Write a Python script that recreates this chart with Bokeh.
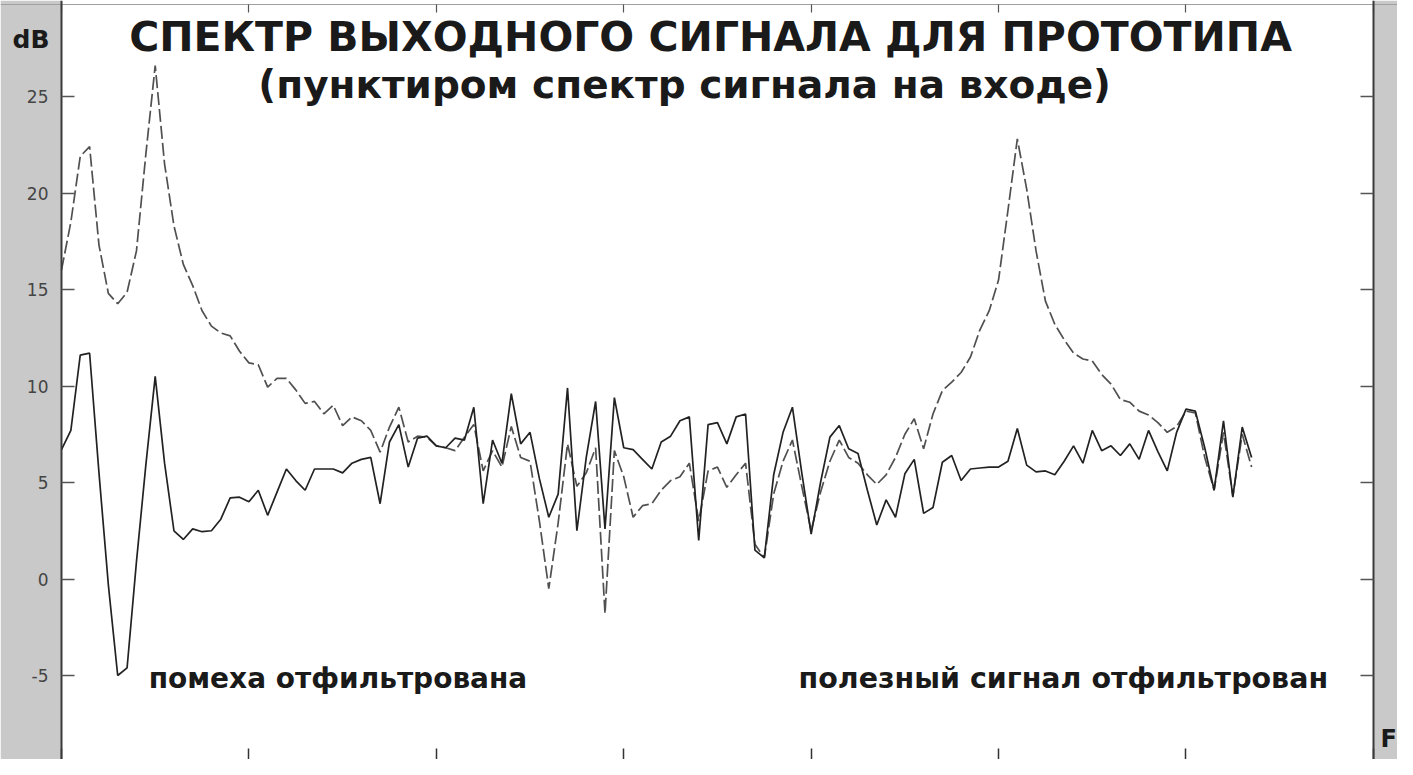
from bokeh.plotting import figure
from bokeh.models import (Label, LinearAxis, FixedTicker, Range1d, BoxAnnotation,
                          CustomJSTickFormatter)
from bokeh.embed import file_html
from bokeh.resources import INLINE

# ---------------- data ----------------
freq_bins = list(range(128))

spectrum_out = [
    6.7, 7.7, 11.6, 11.7, 5.5, -0.3, -5.0, -4.6, 0.9, 5.9,
    10.5, 6.0, 2.5, 2.05, 2.6, 2.45, 2.5, 3.1, 4.2, 4.24,
    4.0, 4.6, 3.3, 4.5, 5.7, 5.1, 4.6, 5.7, 5.7, 5.7,
    5.5, 6.0, 6.2, 6.3, 3.9, 7.1, 8.0, 5.8, 7.3, 7.4,
    6.9, 6.8, 7.3, 7.2, 8.9, 3.9, 7.2, 6.0, 9.6, 7.0,
    7.6, 5.2, 3.2, 4.4, 9.9, 2.5, 6.3, 9.2, 2.6, 9.4,
    6.8, 6.7, 6.2, 5.7, 7.1, 7.4, 8.2, 8.4, 2.0, 8.0,
    8.1, 7.0, 8.4, 8.55, 1.5, 1.1, 5.4, 7.6, 8.9, 5.5,
    2.33, 5.0, 7.35, 7.95, 6.75, 6.5, 4.6, 2.8, 4.1, 3.2,
    5.45, 6.2, 3.4, 3.7, 6.05, 6.4, 5.1, 5.7, 5.75, 5.8,
    5.8, 6.1, 7.8, 5.9, 5.55, 5.6, 5.4, 6.1, 6.9, 6.0,
    7.7, 6.65, 6.9, 6.4, 7.0, 6.2, 7.7, 6.6, 5.6, 7.6,
    8.8, 8.7, 6.8, 4.6, 8.2, 4.24, 7.87, 6.3,
]

spectrum_in = [
    16.0, 18.5, 21.9, 22.4, 17.3, 14.8, 14.26, 14.86, 17.0, 22.0,
    26.6, 21.5, 18.3, 16.3, 15.2, 13.9, 13.1, 12.75, 12.6, 11.8,
    11.2, 11.1, 9.94, 10.4, 10.4, 9.8, 9.1, 9.2, 8.56, 9.0,
    7.95, 8.4, 8.2, 7.7, 6.57, 7.87, 8.9, 7.1, 7.4, 7.35,
    6.9, 6.8, 6.65, 7.35, 8.0, 5.6, 6.65, 5.8, 7.9, 6.3,
    6.1, 3.0, -0.5, 2.9, 7.0, 4.8, 5.5, 6.8, -1.8, 6.65,
    5.3, 3.2, 3.8, 3.9, 4.6, 5.1, 5.3, 6.0, 3.0, 5.6,
    5.8, 4.75, 5.4, 6.0, 1.8, 1.1, 4.4, 6.1, 7.2, 4.8,
    2.5, 4.5, 6.1, 7.2, 6.3, 6.0, 5.4, 4.9, 5.4, 6.3,
    7.5, 8.3, 6.75, 8.55, 9.76, 10.2, 10.7, 11.5, 12.9, 13.9,
    15.5, 19.1, 22.8, 20.2, 17.0, 14.4, 13.2, 12.4, 11.7, 11.4,
    11.3, 10.6, 10.1, 9.3, 9.16, 8.7, 8.5, 8.1, 7.6, 7.9,
    8.7, 8.6, 6.3, 4.6, 7.6, 4.3, 7.5, 5.8,
]

y_ticks = [-5, 0, 5, 10, 15, 20, 25]
x_ticks = [0, 20, 40, 60, 80, 100, 120, 140]
x_limits = [0, 140]

title_1 = "СПЕКТР ВЫХОДНОГО СИГНАЛА ДЛЯ ПРОТОТИПА"
title_2 = "(пунктиром спектр сигнала на входе)"
note_left = "помеха отфильтрована"
note_right = "полезный сигнал отфильтрован"
y_unit = "dB"
x_unit = "F"

# ---------------- figure ----------------
GREY = "#c9c9c9"
X0, X1 = -6.509, 142.57
Y0, Y1 = -9.352, 29.974
TOP_Y = 29.767

p = figure(
    width=1397, height=759,
    output_backend="svg", toolbar_location=None,
    x_range=Range1d(X0, X1), y_range=Range1d(Y0, Y1),
    x_axis_location=None, y_axis_location=None,
    min_border=0, min_border_left=0, min_border_right=0,
    min_border_top=0, min_border_bottom=0,
    border_fill_color=GREY, background_fill_color="white",
)
p.grid.visible = False
p.outline_line_color = None

# grey side bands outside the data area
p.add_layout(BoxAnnotation(right=x_limits[0], fill_color=GREY, fill_alpha=1.0,
                           line_color=None, level="underlay"))
p.add_layout(BoxAnnotation(left=x_limits[1], fill_color=GREY, fill_alpha=1.0,
                           line_color=None, level="underlay"))

blank = CustomJSTickFormatter(code="return '';")

# left axis (labelled)
lax = LinearAxis(ticker=FixedTicker(ticks=y_ticks), fixed_location=x_limits[0],
                 major_tick_in=13, major_tick_out=0, minor_tick_in=0, minor_tick_out=0,
                 axis_line_color="#3a3a3a", axis_line_width=2,
                 major_tick_line_color="#555555", major_tick_line_width=1.5,
                 major_label_text_font="DejaVu Sans", major_label_text_font_size="17px",
                 major_label_text_color="#444444", major_label_standoff=13,
                 major_label_overrides={-5: "-5"})
p.add_layout(lax, "left")

# right axis
rax = LinearAxis(ticker=FixedTicker(ticks=y_ticks), fixed_location=x_limits[1],
                 major_tick_in=13, major_tick_out=0, minor_tick_in=0, minor_tick_out=0,
                 formatter=blank, major_label_standoff=0,
                 axis_line_color="#3a3a3a", axis_line_width=2,
                 major_tick_line_color="#555555", major_tick_line_width=1.5)
p.add_layout(rax, "right")

# bottom axis
bax = LinearAxis(ticker=FixedTicker(ticks=x_ticks), fixed_location=Y0,
                 major_tick_in=11, major_tick_out=0, minor_tick_in=0, minor_tick_out=0,
                 formatter=blank, major_label_standoff=0,
                 axis_line_color="#9a9a9a", axis_line_width=1,
                 major_tick_line_color="#333333", major_tick_line_width=1.5)
p.add_layout(bax, "below")

# top axis
tax = LinearAxis(ticker=FixedTicker(ticks=x_ticks), fixed_location=TOP_Y,
                 major_tick_in=8, major_tick_out=0, minor_tick_in=0, minor_tick_out=0,
                 formatter=blank, major_label_standoff=0,
                 axis_line_color="#a0a0a0", axis_line_width=1,
                 major_tick_line_color="#555555", major_tick_line_width=1.2)
p.add_layout(tax, "above")

# ---------------- lines ----------------
p.line(freq_bins, spectrum_in, line_color="#505050", line_width=1.7, line_dash="13 4")
p.line(freq_bins, spectrum_out, line_color="#222222", line_width=1.7)

# ---------------- texts ----------------
def lab(x, y, text, size, align="left", baseline="middle", color="#1a1a1a"):
    p.add_layout(Label(x=x, y=y, text=text, text_font="DejaVu Sans",
                       text_font_size=size, text_font_style="bold",
                       text_align=align, text_baseline=baseline, text_color=color))

lab(69.26, 28.06, title_1, "41px", align="center")
lab(66.5, 25.62, title_2, "39px", align="center")
lab(9.3, -5.13, note_left, "28px")
lab(78.65, -5.13, note_right, "28.5px")
lab(-5.23, 27.95, y_unit, "25px", baseline="alphabetic")
lab(140.75, -9.0, x_unit, "24px", baseline="bottom")

open("out.html", "w").write(file_html(p, INLINE))
